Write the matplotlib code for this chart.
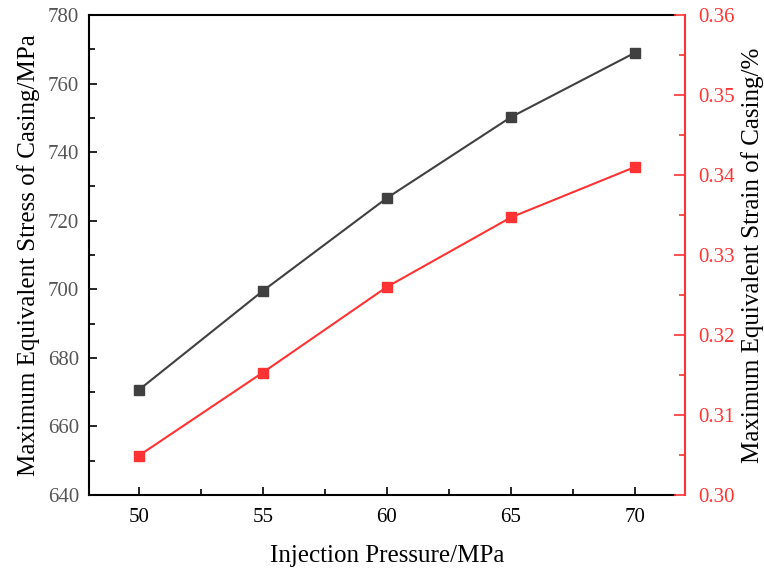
import matplotlib
matplotlib.use("Agg")
import matplotlib.pyplot as plt
from matplotlib.ticker import MultipleLocator

plt.rcParams["font.family"] = ["Liberation Serif", "DejaVu Serif"]

pressure = [50, 55, 60, 65, 70]
stress = [670.6, 699.5, 726.6, 750.2, 769.0]
strain = [0.3049, 0.3153, 0.3260, 0.3347, 0.3410]

BLACK = "#404040"
RED = "#ff3333"

fig = plt.figure(figsize=(7.64, 5.69), dpi=100)
ax = fig.add_axes([89 / 764, 1 - 495 / 569, (684.6 - 89) / 764, 480 / 569])

ax.plot(pressure, stress, color=BLACK, marker="s", markersize=7, linewidth=1.5)
ax.set_xlim(48, 72)
ax.set_ylim(640, 780)
ax.xaxis.set_major_locator(MultipleLocator(5))
ax.xaxis.set_minor_locator(MultipleLocator(2.5))
ax.yaxis.set_major_locator(MultipleLocator(20))
ax.yaxis.set_minor_locator(MultipleLocator(10))
ax.tick_params(which="both", direction="in", top=False, right=False, width=1.2)
ax.tick_params(which="major", length=6)
ax.tick_params(which="minor", length=4)
ax.tick_params(axis="y", labelsize=15, labelcolor="#555555", pad=7)
ax.tick_params(axis="x", labelsize=15, labelcolor="black", pad=9)
for s in ["left", "bottom", "top"]:
    ax.spines[s].set_linewidth(1.5)
    ax.spines[s].set_color("black")
ax.spines["top"].set_bounds(48, 71.6)
ax.spines["bottom"].set_bounds(48, 71.6)
ax.spines["right"].set_visible(False)
ax.set_xlabel("Injection Pressure/MPa", fontsize=18, labelpad=13)
ax.set_ylabel("Maximum Equivalent Stress of Casing/MPa", fontsize=18, labelpad=6)

ax2 = ax.twinx()
ax2.plot(pressure, strain, color=RED, marker="s", markersize=7, linewidth=1.5)
ax2.set_ylim(0.30, 0.36)
ax2.yaxis.set_major_locator(MultipleLocator(0.01))
ax2.yaxis.set_minor_locator(MultipleLocator(0.005))
ax2.yaxis.set_major_formatter(plt.FormatStrFormatter("%.2f"))
for s in ["left", "bottom", "top"]:
    ax2.spines[s].set_visible(False)
ax2.spines["right"].set_color(RED)
ax2.spines["right"].set_linewidth(1.5)
ax2.tick_params(which="both", direction="in", color=RED, width=1.2)
ax2.tick_params(which="major", length=8)
ax2.tick_params(which="minor", length=4)
ax2.tick_params(axis="y", labelsize=15, labelcolor=RED, pad=10)
ax2.set_ylabel("Maximum Equivalent Strain of Casing/%", fontsize=18, labelpad=4)

fig.savefig("out.png", dpi=100)
